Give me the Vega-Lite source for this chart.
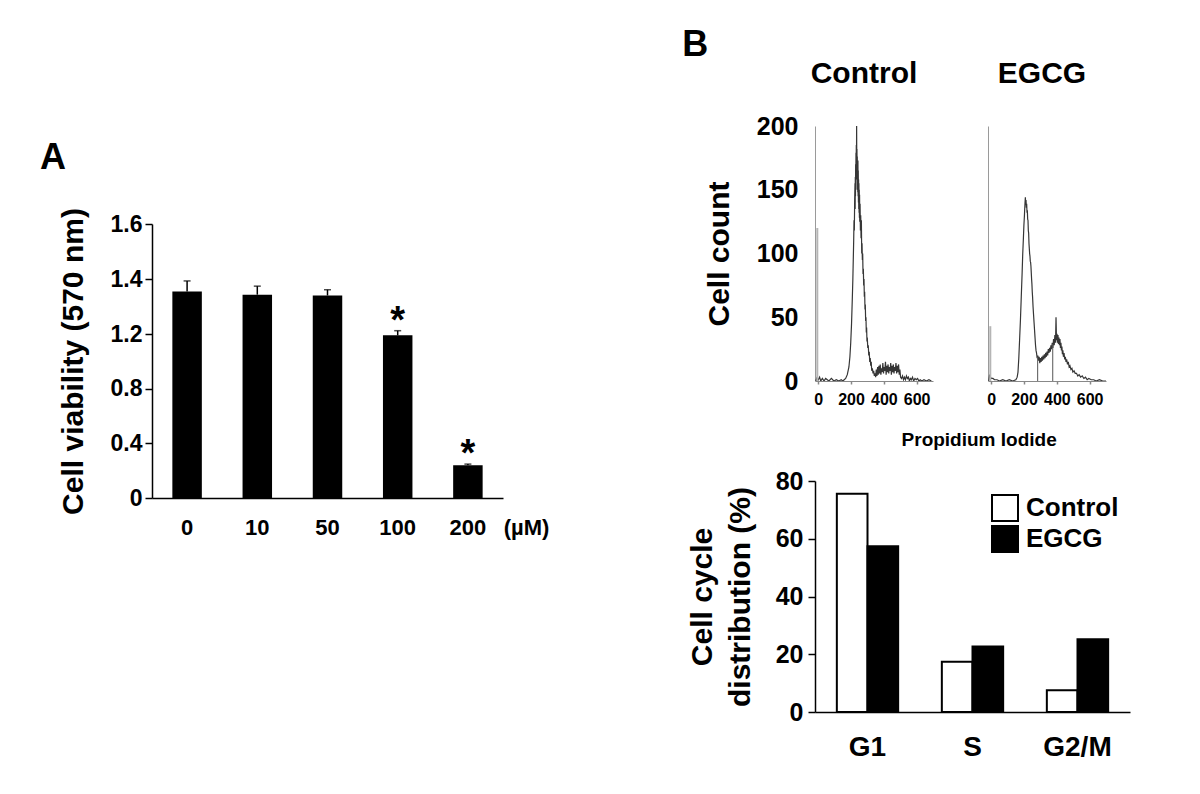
{
  "$schema": "https://vega.github.io/schema/vega-lite/v6.json",
  "background": "white",
  "padding": {"left": 40, "top": 27, "right": 5, "bottom": 5},
  "config": {
    "font": "Liberation Sans",
    "view": {"stroke": null},
    "axis": {"labelFontWeight": "bold", "titleFontWeight": "bold", "labelColor": "black", "titleColor": "black", "domainColor": "black", "tickColor": "black", "grid": false, "domainWidth": 1.5, "tickWidth": 1.5},
    "title": {"fontWeight": "bold", "color": "black", "font": "Liberation Sans"}
  },
  "datasets": {
    "viability": [
      {"dose": "0", "mean": 1.355, "upper": 1.393, "sig": false},
      {"dose": "10", "mean": 1.343, "upper": 1.374, "sig": false},
      {"dose": "50", "mean": 1.340, "upper": 1.361, "sig": false},
      {"dose": "100", "mean": 1.190, "upper": 1.212, "sig": true},
      {"dose": "200", "mean": 0.240, "upper": 0.248, "sig": true}
    ],
    "cycle": [
      {"phase": "G1", "group": "Control", "pct": 75.6},
      {"phase": "G1", "group": "EGCG", "pct": 57.4},
      {"phase": "S", "group": "Control", "pct": 17.4},
      {"phase": "S", "group": "EGCG", "pct": 22.7},
      {"phase": "G2/M", "group": "Control", "pct": 7.5},
      {"phase": "G2/M", "group": "EGCG", "pct": 25.2}
    ],
    "markers": [
      {"panel": "Control", "x": -6, "count": 120, "kind": "spike"},
      {"panel": "EGCG", "x": -6, "count": 43, "kind": "spike"},
      {"panel": "Control", "x": 214, "count": 95, "kind": "gate"},
      {"panel": "EGCG", "x": 283, "count": 19, "kind": "gate"},
      {"panel": "EGCG", "x": 375, "count": 29, "kind": "gate"}
    ],
    "ctrl": [
      {"x": -15, "count": 0}, {"x": -10, "count": 2}, {"x": -5, "count": 0}, {"x": 0, "count": 1}, {"x": 8, "count": 3}, {"x": 15, "count": 0}, {"x": 25, "count": 2}, {"x": 35, "count": 0}, {"x": 45, "count": 2}, {"x": 55, "count": 1}, {"x": 65, "count": 0}, {"x": 80, "count": 2}, {"x": 95, "count": 0}, {"x": 110, "count": 1}, {"x": 125, "count": 0}, {"x": 140, "count": 1}, {"x": 150, "count": 0}, {"x": 158, "count": 1}, {"x": 167, "count": 2}, {"x": 177, "count": 5}, {"x": 187, "count": 11}, {"x": 193, "count": 19}, {"x": 198, "count": 30}, {"x": 203, "count": 45}, {"x": 208, "count": 66}, {"x": 211, "count": 80}, {"x": 214, "count": 98}, {"x": 216, "count": 110}, {"x": 218, "count": 126}, {"x": 220, "count": 118}, {"x": 222, "count": 142}, {"x": 224, "count": 155}, {"x": 225, "count": 135}, {"x": 226, "count": 160}, {"x": 227, "count": 145}, {"x": 228, "count": 170}, {"x": 229, "count": 150}, {"x": 230, "count": 179}, {"x": 231, "count": 158}, {"x": 232, "count": 185}, {"x": 233, "count": 162}, {"x": 234, "count": 201}, {"x": 235, "count": 165}, {"x": 236, "count": 182}, {"x": 237, "count": 158}, {"x": 238, "count": 176}, {"x": 239, "count": 150}, {"x": 240, "count": 170}, {"x": 241, "count": 148}, {"x": 242, "count": 173}, {"x": 243, "count": 145}, {"x": 244, "count": 165}, {"x": 245, "count": 140}, {"x": 246, "count": 158}, {"x": 247, "count": 135}, {"x": 248, "count": 155}, {"x": 249, "count": 132}, {"x": 250, "count": 150}, {"x": 251, "count": 128}, {"x": 252, "count": 146}, {"x": 253, "count": 125}, {"x": 255, "count": 139}, {"x": 257, "count": 118}, {"x": 259, "count": 130}, {"x": 261, "count": 112}, {"x": 263, "count": 126}, {"x": 265, "count": 100}, {"x": 267, "count": 108}, {"x": 269, "count": 95}, {"x": 271, "count": 100}, {"x": 273, "count": 84}, {"x": 275, "count": 88}, {"x": 277, "count": 75}, {"x": 279, "count": 80}, {"x": 281, "count": 66}, {"x": 283, "count": 70}, {"x": 285, "count": 56}, {"x": 287, "count": 60}, {"x": 289, "count": 47}, {"x": 291, "count": 50}, {"x": 293, "count": 38}, {"x": 295, "count": 42}, {"x": 297, "count": 31}, {"x": 299, "count": 34}, {"x": 302, "count": 26}, {"x": 305, "count": 28}, {"x": 308, "count": 20}, {"x": 311, "count": 23}, {"x": 314, "count": 15}, {"x": 317, "count": 18}, {"x": 320, "count": 12}, {"x": 323, "count": 15}, {"x": 326, "count": 8}, {"x": 330, "count": 10}, {"x": 334, "count": 6}, {"x": 338, "count": 8}, {"x": 342, "count": 4}, {"x": 346, "count": 6}, {"x": 350, "count": 3}, {"x": 354, "count": 9}, {"x": 358, "count": 4}, {"x": 362, "count": 11}, {"x": 366, "count": 5}, {"x": 370, "count": 12}, {"x": 374, "count": 6}, {"x": 378, "count": 13}, {"x": 382, "count": 5}, {"x": 386, "count": 10}, {"x": 390, "count": 7}, {"x": 394, "count": 14}, {"x": 398, "count": 6}, {"x": 402, "count": 11}, {"x": 406, "count": 8}, {"x": 410, "count": 15}, {"x": 414, "count": 5}, {"x": 418, "count": 12}, {"x": 422, "count": 7}, {"x": 426, "count": 13}, {"x": 430, "count": 6}, {"x": 434, "count": 11}, {"x": 438, "count": 8}, {"x": 442, "count": 14}, {"x": 446, "count": 5}, {"x": 450, "count": 12}, {"x": 454, "count": 7}, {"x": 458, "count": 13}, {"x": 462, "count": 6}, {"x": 466, "count": 11}, {"x": 470, "count": 8}, {"x": 474, "count": 14}, {"x": 478, "count": 6}, {"x": 482, "count": 12}, {"x": 486, "count": 7}, {"x": 490, "count": 13}, {"x": 494, "count": 5}, {"x": 498, "count": 9}, {"x": 502, "count": 3}, {"x": 508, "count": 2}, {"x": 514, "count": 4}, {"x": 520, "count": 1}, {"x": 526, "count": 3}, {"x": 532, "count": 1}, {"x": 538, "count": 4}, {"x": 544, "count": 2}, {"x": 550, "count": 3}, {"x": 556, "count": 0}, {"x": 562, "count": 2}, {"x": 568, "count": 1}, {"x": 575, "count": 3}, {"x": 582, "count": 0}, {"x": 590, "count": 2}, {"x": 598, "count": 1}, {"x": 606, "count": 2}, {"x": 614, "count": 0}, {"x": 622, "count": 1}, {"x": 632, "count": 0}, {"x": 645, "count": 1}, {"x": 660, "count": 0}, {"x": 675, "count": 1}, {"x": 690, "count": 0}
    ],
    "egcg": [
      {"x": -15, "count": 0}, {"x": -10, "count": 5}, {"x": -5, "count": 3}, {"x": 0, "count": 2}, {"x": 10, "count": 2}, {"x": 20, "count": 1}, {"x": 35, "count": 1}, {"x": 50, "count": 0}, {"x": 70, "count": 1}, {"x": 90, "count": 0}, {"x": 110, "count": 1}, {"x": 130, "count": 0}, {"x": 150, "count": 1}, {"x": 158, "count": 3}, {"x": 163, "count": 7}, {"x": 168, "count": 18}, {"x": 173, "count": 33}, {"x": 178, "count": 48}, {"x": 183, "count": 66}, {"x": 188, "count": 84}, {"x": 192, "count": 100}, {"x": 196, "count": 112}, {"x": 199, "count": 122}, {"x": 202, "count": 129}, {"x": 204, "count": 135}, {"x": 206, "count": 140}, {"x": 208, "count": 144}, {"x": 210, "count": 138}, {"x": 212, "count": 142}, {"x": 214, "count": 136}, {"x": 216, "count": 139}, {"x": 218, "count": 132}, {"x": 220, "count": 134}, {"x": 222, "count": 127}, {"x": 224, "count": 126}, {"x": 226, "count": 118}, {"x": 228, "count": 116}, {"x": 230, "count": 108}, {"x": 232, "count": 104}, {"x": 234, "count": 100}, {"x": 236, "count": 98}, {"x": 238, "count": 94}, {"x": 240, "count": 93}, {"x": 242, "count": 90}, {"x": 244, "count": 85}, {"x": 246, "count": 80}, {"x": 248, "count": 76}, {"x": 250, "count": 70}, {"x": 252, "count": 66}, {"x": 255, "count": 58}, {"x": 258, "count": 52}, {"x": 261, "count": 46}, {"x": 264, "count": 40}, {"x": 267, "count": 34}, {"x": 270, "count": 28}, {"x": 273, "count": 24}, {"x": 276, "count": 22}, {"x": 280, "count": 18}, {"x": 284, "count": 20}, {"x": 288, "count": 16}, {"x": 292, "count": 19}, {"x": 296, "count": 14}, {"x": 300, "count": 18}, {"x": 304, "count": 15}, {"x": 308, "count": 19}, {"x": 312, "count": 16}, {"x": 316, "count": 20}, {"x": 320, "count": 17}, {"x": 324, "count": 21}, {"x": 328, "count": 18}, {"x": 332, "count": 22}, {"x": 336, "count": 19}, {"x": 340, "count": 23}, {"x": 344, "count": 20}, {"x": 348, "count": 25}, {"x": 352, "count": 22}, {"x": 356, "count": 26}, {"x": 360, "count": 23}, {"x": 364, "count": 28}, {"x": 368, "count": 25}, {"x": 372, "count": 30}, {"x": 376, "count": 26}, {"x": 380, "count": 33}, {"x": 384, "count": 28}, {"x": 388, "count": 36}, {"x": 392, "count": 30}, {"x": 395, "count": 50}, {"x": 398, "count": 32}, {"x": 401, "count": 37}, {"x": 404, "count": 30}, {"x": 407, "count": 36}, {"x": 410, "count": 29}, {"x": 413, "count": 34}, {"x": 416, "count": 28}, {"x": 419, "count": 33}, {"x": 422, "count": 26}, {"x": 425, "count": 30}, {"x": 428, "count": 24}, {"x": 431, "count": 27}, {"x": 434, "count": 21}, {"x": 437, "count": 24}, {"x": 440, "count": 19}, {"x": 444, "count": 22}, {"x": 448, "count": 17}, {"x": 452, "count": 19}, {"x": 456, "count": 15}, {"x": 460, "count": 17}, {"x": 465, "count": 13}, {"x": 470, "count": 15}, {"x": 475, "count": 11}, {"x": 480, "count": 12}, {"x": 486, "count": 9}, {"x": 492, "count": 10}, {"x": 498, "count": 7}, {"x": 505, "count": 8}, {"x": 512, "count": 6}, {"x": 520, "count": 6}, {"x": 528, "count": 4}, {"x": 536, "count": 5}, {"x": 545, "count": 3}, {"x": 555, "count": 4}, {"x": 565, "count": 2}, {"x": 575, "count": 3}, {"x": 585, "count": 1}, {"x": 595, "count": 2}, {"x": 610, "count": 1}, {"x": 625, "count": 1}, {"x": 640, "count": 0}, {"x": 660, "count": 1}, {"x": 680, "count": 0}, {"x": 700, "count": 0}
    ]
  },
  "resolve": {"legend": {"color": "independent"}},
  "hconcat": [
    {
      "spacing": 12,
      "vconcat": [
        {"width": 1, "height": 1, "data": {"values": []}, "mark": "point"},
        {
          "width": 351,
          "height": 274,
          "title": {"text": "A", "fontSize": 36, "anchor": "start", "frame": "group", "dx": -112, "offset": 31},
          "data": {"name": "viability"},
          "layer": [
            {"mark": {"type": "rule", "strokeWidth": 1.5, "color": "black"},
              "encoding": {
                "x": {"field": "dose", "type": "nominal", "sort": null, "scale": {"paddingInner": 0.58, "paddingOuter": 0.29},
                  "axis": {"labelAngle": 0, "labelFontSize": 22, "ticks": false, "labelPadding": 19, "title": "(µM)", "titleFontSize": 22, "titleX": 374, "titleY": 29, "titleAlign": "center", "titleBaseline": "middle", "titleAngle": 0}},
                "y": {"field": "mean", "type": "quantitative", "scale": {"domain": [0, 1.2, 1.6], "range": [274, 110, 0], "nice": false, "zero": false},
                  "axis": {"values": [0, 0.4, 0.8, 1.2, 1.4, 1.6], "labelExpr": "datum.value == 0 ? '0' : format(datum.value, '.1f')", "labelFontSize": 23, "tickSize": 7, "labelPadding": 3, "title": "Cell viability (570 nm)", "titleFontSize": 30, "titlePadding": 22}},
                "y2": {"field": "upper"}}},
            {"mark": {"type": "tick", "color": "black", "size": 7, "thickness": 1.5},
              "encoding": {"x": {"field": "dose", "type": "nominal", "sort": null}, "y": {"field": "upper", "type": "quantitative"}}},
            {"mark": {"type": "bar", "color": "black"},
              "encoding": {"x": {"field": "dose", "type": "nominal", "sort": null}, "y": {"field": "mean", "type": "quantitative"}}},
            {"transform": [{"filter": "datum.sig"}],
              "mark": {"type": "text", "text": "*", "fontSize": 38, "fontWeight": "bold", "baseline": "alphabetic", "dy": 2, "color": "black"},
              "encoding": {"x": {"field": "dose", "type": "nominal", "sort": null}, "y": {"field": "upper", "type": "quantitative"}}}
          ]
        }
      ]
    },
    {
      "title": {"text": "B", "fontSize": 36, "anchor": "start", "dx": -5, "offset": -5},
      "spacing": 19,
      "resolve": {"legend": {"color": "independent"}},
      "vconcat": [
        {
          "spacing": 53,
          "title": {"text": "Propidium Iodide", "orient": "bottom", "fontSize": 19, "anchor": "middle", "dx": 74, "offset": 24},
          "hconcat": [
            {
              "width": 118,
              "height": 255,
              "title": {"text": "Control", "fontSize": 30, "dx": -10, "offset": 25},
              "layer": [
                {"data": {"name": "ctrl"},
                  "mark": {"type": "line", "color": "#363636", "strokeWidth": 1.2, "clip": true},
                  "encoding": {
                    "x": {"field": "x", "type": "quantitative", "scale": {"domain": [-20, 700], "nice": false, "zero": false},
                      "axis": {"values": [0, 200, 400, 600], "labelOverlap": false, "labelFlush": false, "labelSeparation": 0, "labelFontSize": 16, "tickSize": 3, "tickColor": "#888", "domainColor": "#888", "domainWidth": 1, "labelPadding": 7, "title": null}},
                    "y": {"field": "count", "type": "quantitative", "scale": {"domain": [0, 200], "nice": false},
                      "axis": {"values": [0, 50, 100, 150, 200], "ticks": false, "domainColor": "#9a9a9a", "domainWidth": 1, "labelFontSize": 25, "labelPadding": 17, "title": "Cell count", "titleFontSize": 30, "titlePadding": 22}}}},
                {"data": {"name": "markers"}, "transform": [{"filter": "datum.panel === 'Control' && datum.kind === 'spike'"}],
                  "mark": {"type": "rule", "color": "#b5b5b5", "strokeWidth": 2},
                  "encoding": {
                    "x": {"field": "x", "type": "quantitative", "scale": {"domain": [-20, 700], "nice": false, "zero": false},
                      "axis": {"values": [0, 200, 400, 600], "labelOverlap": false, "labelFlush": false, "labelSeparation": 0, "labelFontSize": 16, "tickSize": 3, "tickColor": "#888", "domainColor": "#888", "domainWidth": 1, "labelPadding": 7, "title": null}},
                    "y": {"field": "count", "type": "quantitative", "scale": {"domain": [0, 200], "nice": false},
                      "axis": {"values": [0, 50, 100, 150, 200], "ticks": false, "domainColor": "#9a9a9a", "domainWidth": 1, "labelFontSize": 25, "labelPadding": 17, "title": "Cell count", "titleFontSize": 30, "titlePadding": 22}},
                    "y2": {"datum": 0}}}
              ]
            },
            {
              "width": 118,
              "height": 255,
              "title": {"text": "EGCG", "fontSize": 30, "dx": -5, "offset": 37},
              "layer": [
                {"data": {"name": "egcg"},
                  "mark": {"type": "line", "color": "#363636", "strokeWidth": 1.2, "clip": true},
                  "encoding": {
                    "x": {"field": "x", "type": "quantitative", "scale": {"domain": [-20, 700], "nice": false, "zero": false},
                      "axis": {"values": [0, 200, 400, 600], "labelOverlap": false, "labelFlush": false, "labelSeparation": 0, "labelFontSize": 16, "tickSize": 3, "tickColor": "#888", "domainColor": "#888", "domainWidth": 1, "labelPadding": 7, "title": null}},
                    "y": {"field": "count", "type": "quantitative", "scale": {"domain": [0, 200], "nice": false},
                      "axis": {"labels": false, "ticks": false, "domainColor": "#9a9a9a", "domainWidth": 1, "title": null}}}},
                {"data": {"name": "markers"}, "transform": [{"filter": "datum.panel === 'EGCG' && datum.kind === 'spike'"}],
                  "mark": {"type": "rule", "color": "#b5b5b5", "strokeWidth": 2},
                  "encoding": {
                    "x": {"field": "x", "type": "quantitative", "scale": {"domain": [-20, 700], "nice": false, "zero": false},
                      "axis": {"values": [0, 200, 400, 600], "labelOverlap": false, "labelFlush": false, "labelSeparation": 0, "labelFontSize": 16, "tickSize": 3, "tickColor": "#888", "domainColor": "#888", "domainWidth": 1, "labelPadding": 7, "title": null}},
                    "y": {"field": "count", "type": "quantitative", "scale": {"domain": [0, 200], "nice": false},
                      "axis": {"labels": false, "ticks": false, "domainColor": "#9a9a9a", "domainWidth": 1, "title": null}},
                    "y2": {"datum": 0}}},
                {"data": {"name": "markers"}, "transform": [{"filter": "datum.panel === 'EGCG' && datum.kind === 'gate'"}],
                  "mark": {"type": "rule", "color": "#555", "strokeWidth": 1},
                  "encoding": {
                    "x": {"field": "x", "type": "quantitative", "scale": {"domain": [-20, 700], "nice": false, "zero": false},
                      "axis": {"values": [0, 200, 400, 600], "labelOverlap": false, "labelFlush": false, "labelSeparation": 0, "labelFontSize": 16, "tickSize": 3, "tickColor": "#888", "domainColor": "#888", "domainWidth": 1, "labelPadding": 7, "title": null}},
                    "y": {"field": "count", "type": "quantitative", "scale": {"domain": [0, 200], "nice": false},
                      "axis": {"labels": false, "ticks": false, "domainColor": "#9a9a9a", "domainWidth": 1, "title": null}},
                    "y2": {"datum": 0}}}
              ]
            }
          ]
        },
        {
          "width": 315,
          "height": 231,
          "data": {"name": "cycle"},
          "mark": {"type": "bar", "stroke": "black", "strokeWidth": 2},
          "encoding": {
            "x": {"field": "phase", "type": "nominal", "sort": ["G1", "S", "G2/M"], "scale": {"paddingInner": 0.416, "paddingOuter": 0.208},
              "axis": {"labelAngle": 0, "labelFontSize": 28, "ticks": false, "labelPadding": 21, "title": null}},
            "xOffset": {"field": "group", "type": "nominal", "sort": ["Control", "EGCG"]},
            "y": {"field": "pct", "type": "quantitative", "scale": {"domain": [0, 80], "nice": false},
              "axis": {"values": [0, 20, 40, 60, 80], "labelFontSize": 25, "tickSize": 7, "labelPadding": 5, "title": ["Cell cycle", "distribution (%)"], "titleFontSize": 30, "titleLineHeight": 38, "titlePadding": 20}},
            "color": {"field": "group", "type": "nominal", "scale": {"domain": ["Control", "EGCG"], "range": ["white", "black"]},
              "legend": {"orient": "none", "legendX": 176, "legendY": 13, "title": null, "symbolType": "square", "symbolSize": 676, "symbolStrokeColor": "black", "symbolStrokeWidth": 2, "labelFontSize": 26, "labelFontWeight": "bold", "labelColor": "black", "rowPadding": -3, "labelOffset": 7}}
          }
        }
      ]
    }
  ],
  "spacing": 133
}
